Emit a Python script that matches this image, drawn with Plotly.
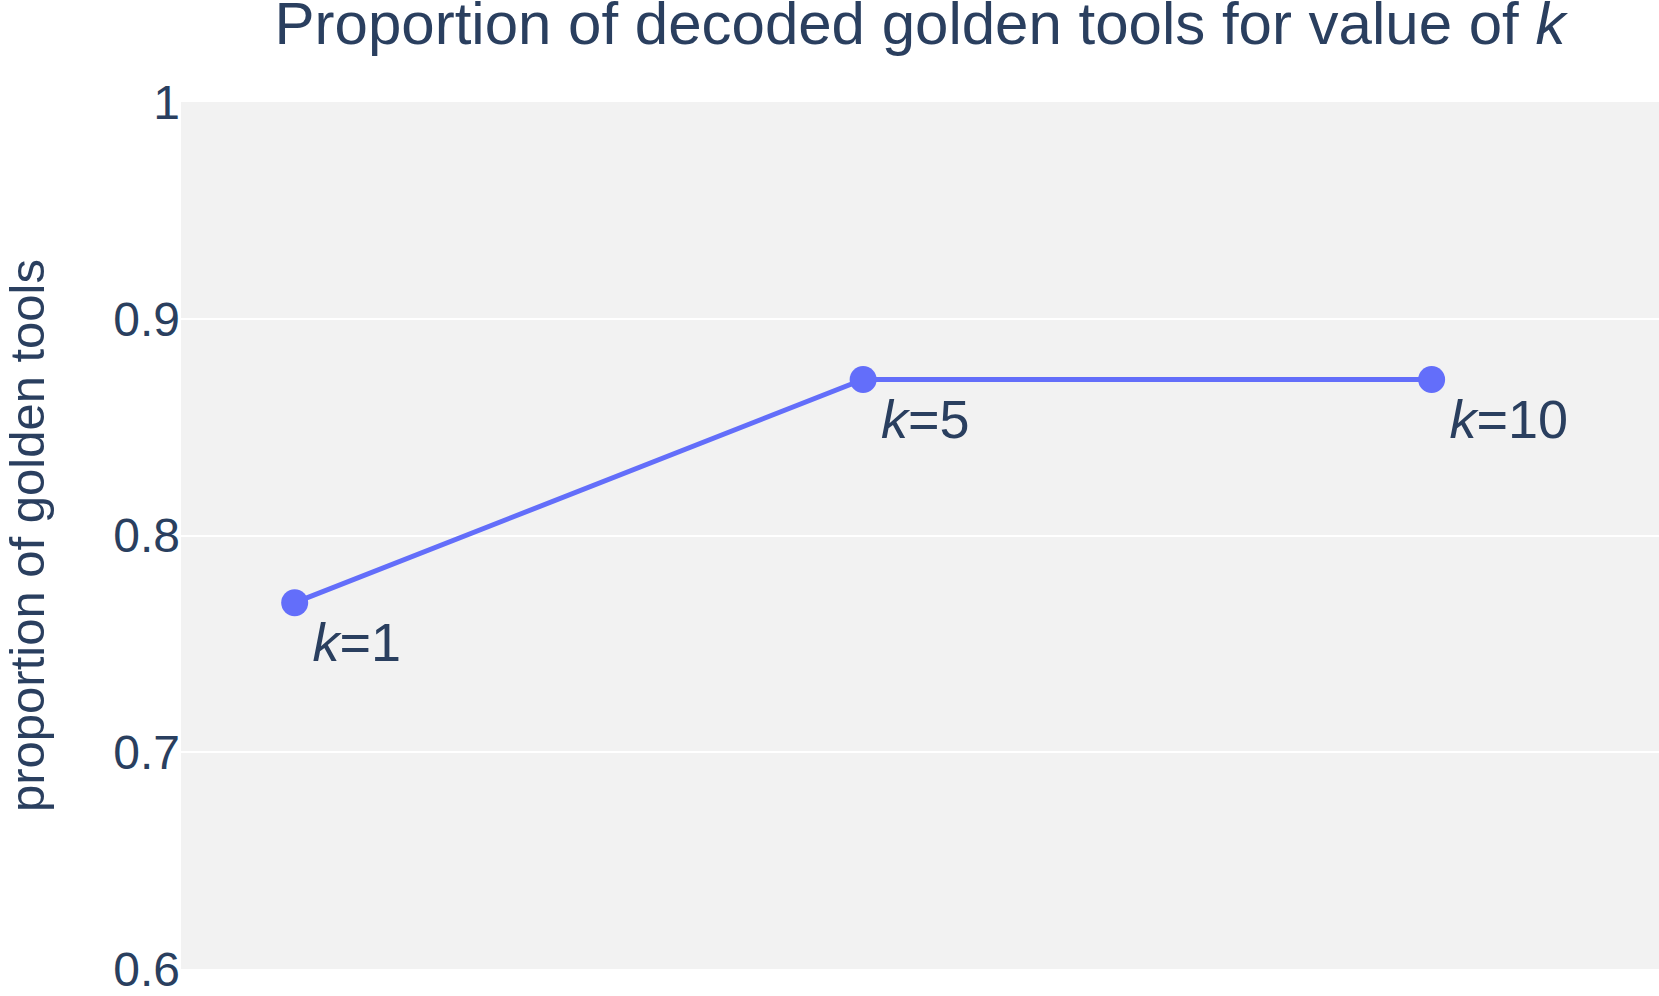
import plotly.graph_objects as go

# values of k and the proportion of golden tools decoded
k_values = ["1", "5", "10"]
proportion = [0.769, 0.872, 0.872]
point_labels = ["<i>k</i>=1", "<i>k</i>=5", "<i>k</i>=10"]

fig = go.Figure(
    go.Scatter(
        x=k_values,
        y=proportion,
        mode="lines+markers+text",
        text=point_labels,
        textposition="bottom right",
        textfont=dict(size=54, color="#2a3f5f"),
        line=dict(color="#636efa", width=5),
        marker=dict(color="#636efa", size=27),
        showlegend=False,
    )
)

fig.update_layout(
    width=1659,
    height=996,
    title=dict(
        text="Proportion of decoded golden tools for value of <i>k</i>",
        font=dict(size=60, color="#2a3f5f"),
        x=0.5,
        xref="paper",
        xanchor="center",
        y=0.977,
        yanchor="middle",
    ),
    font=dict(family="Liberation Sans, Arial, sans-serif", size=48, color="#2a3f5f"),
    paper_bgcolor="white",
    plot_bgcolor="#f2f2f2",
    margin=dict(l=181, r=0, t=102, b=18),
    xaxis=dict(
        range=[-0.2, 2.4],
        showticklabels=False,
        showgrid=False,
        zeroline=False,
    ),
    yaxis=dict(
        range=[0.6, 1.0],
        dtick=0.1,
        title=dict(text="proportion of golden tools", font=dict(size=49), standoff=77),
        gridcolor="white",
        gridwidth=2,
        zeroline=False,
        ticklabeloverflow="allow",
    ),
)

# drop the default page margin so the figure sits at the top-left corner
fig.write_html(
    "out.html",
    config={"displayModeBar": False},
    post_script="document.body.style.margin = '0px';",
)
